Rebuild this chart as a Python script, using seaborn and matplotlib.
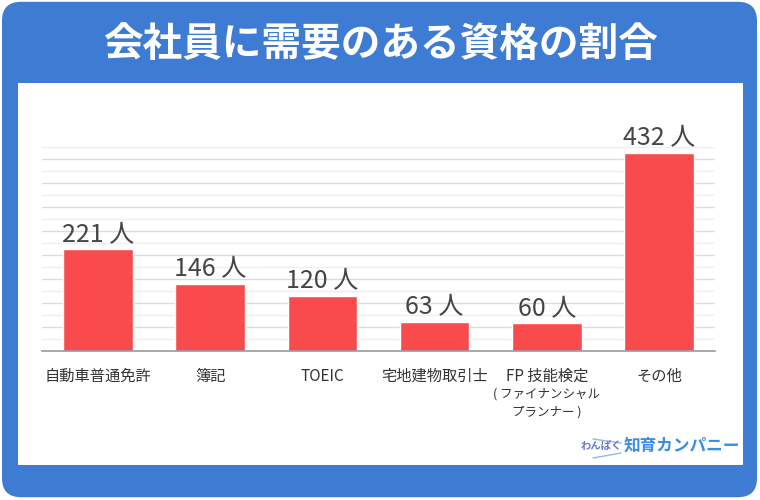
import numpy as np
import matplotlib
matplotlib.use("Agg")
import matplotlib.pyplot as plt
import seaborn as sns
from matplotlib.patches import FancyBboxPatch, Rectangle
from matplotlib.lines import Line2D

categories = ["自動車普通免許", "簿記", "TOEIC", "宅地建物取引士", "FP 技能検定", "その他"]
values = [221, 146, 120, 63, 60, 432]
unit = "人"
title = "会社員に需要のある資格の割合"
fp_sub = "( ファイナンシャル\nプランナー )"

sns.set_theme(style="white")
plt.rcParams['font.family'] = ['Noto Sans CJK JP', 'DejaVu Sans']

W, H = 760, 500
fig = plt.figure(figsize=(7.6, 5.0), dpi=100)
fig.patch.set_facecolor("white")

blue = "#3e7cd3"
red = "#f94b4d"

def fx(px): return px / W
def fy(py): return 1 - py / H

# blue rounded frame
fig.patches.append(FancyBboxPatch((fx(2) + 0.02, fy(497) + 0.03), fx(755) - 0.04, (495) / H - 0.06,
                                  boxstyle="round,pad=0.02,rounding_size=0.025",
                                  transform=fig.transFigure, facecolor=blue, edgecolor="none",
                                  mutation_aspect=W / H, zorder=0))
# white panel
fig.patches.append(Rectangle((fx(17.5), fy(465)), fx(742.5) - fx(17.5), (465 - 83) / H,
                             transform=fig.transFigure, facecolor="white", edgecolor="none", zorder=1))

fig.text(0.5, fy(44), title, color="white", fontsize=28.5, fontweight="bold",
         ha="center", va="center", zorder=3)

ax = fig.add_axes([fx(42), fy(351), fx(715) - fx(42), (351 - 147) / H])
ax.set_zorder(2)
ax.patch.set_alpha(0)

ymax = 444
ax.set_ylim(0, ymax)
grid = np.linspace(0, ymax, 18)
for i, g in enumerate(grid[1:], start=1):
    ax.axhline(g, color="#dcdcdc" if i % 2 == 0 else "#efefef", lw=1, zorder=0)

sns.barplot(x=categories, y=values, color=red, width=0.62, ax=ax, saturation=1, zorder=2)
ax.set_xlim(-0.5, len(categories) - 0.5)

for c in ax.containers:
    ax.bar_label(c, labels=[f"{v} {unit}" for v in values], padding=1,
                 fontsize=18, color="#444444")

for s in ["top", "right", "left"]:
    ax.spines[s].set_visible(False)
ax.spines["bottom"].set_color("#999999")
ax.spines["bottom"].set_linewidth(1.2)
ax.set_yticks([])
ax.tick_params(axis="x", length=0, pad=12, labelsize=11, labelcolor="#333333")
ax.set_xlabel("")
ax.set_ylabel("")

ax.text(4, -0.178, fp_sub, transform=ax.get_xaxis_transform(), ha="center", va="top",
        fontsize=9, color="#333333", linespacing=1.5)

# logo
fig.add_artist(Line2D([fx(593), fx(621)], [fy(439), fy(443)], color="#8fb8ec", lw=1,
                      transform=fig.transFigure, zorder=3))
fig.add_artist(Line2D([fx(593), fx(621)], [fy(458), fy(453)], color="#8fb8ec", lw=1,
                      transform=fig.transFigure, zorder=3))
fig.text(fx(601), fy(446), "わんぱく", color="#6b78dd", fontsize=7.5, fontweight="bold",
         ha="center", va="center", zorder=3)
fig.text(fx(682), fy(446), "知育カンパニー", color="#3a8ee6", fontsize=12, fontweight="bold",
         ha="center", va="center", zorder=3)

fig.savefig("out.png", dpi=100, facecolor="white")
